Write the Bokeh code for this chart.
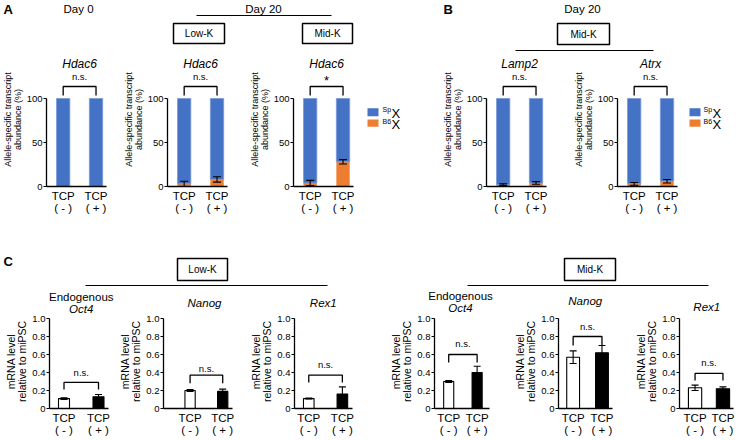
from bokeh.plotting import figure
from bokeh.models import Range1d, FixedTicker, Whisker, TeeHead, ColumnDataSource
from bokeh.layouts import row, column
from bokeh.embed import file_html
from bokeh.resources import INLINE
from bokeh.core.properties import value

FONT = "Liberation Sans"
BLUE = "#4472C4"
ORANGE = "#ED7D31"

# ---------------- data ----------------
conditions = [1, 2]
tcp_labels = ["TCP\n( - )", "TCP\n( + )"]

# Panel A (Hdac6: Day 0, Day 20 Low-K, Day 20 Mid-K) -- B6X share (%); SpX = 100 - B6X
a_titles = ["Hdac6", "Hdac6", "Hdac6"]
a_sig = ["n.s.", "n.s.", "*"]
a_b6 = [[0, 0], [3, 8], [4, 28]]
a_b6_err = [[0, 0], [3, 3], [3, 2.5]]

# Panel B (Day 20 Mid-K)
b_titles = ["Lamp2", "Atrx"]
b_sig = ["n.s.", "n.s."]
b_b6 = [[2, 4], [3, 6]]
b_b6_err = [[1, 1.5], [1.5, 2]]

allele_yticks = [0, 50, 100]
legend_labels = [("Sp", "X"), ("B6", "X")]

# Panel C (mRNA level relative to miPSC)
c_titles = ["Oct4", "Nanog", "Rex1", "Oct4", "Nanog", "Rex1"]
c_mean = [[0.11, 0.13], [0.20, 0.19], [0.11, 0.16], [0.30, 0.40], [0.57, 0.62], [0.23, 0.22]]
c_err = [[0.01, 0.025], [0.01, 0.025], [0.005, 0.08], [0.01, 0.07], [0.07, 0.08], [0.03, 0.02]]
c_sig = ["n.s."] * 6
mrna_yticks = [0, 0.2, 0.4, 0.6, 0.8, 1.0]
mrna_ylabels = ["0", "0.2", "0.4", "0.6", "0.8", "1.0"]

# ---------------- layout (pixels) ----------------
H_HEAD1, H_ROW1, H_HEAD2, H_ROW2 = 52, 166, 96, 126
FRAME1, BOTTOM1 = 134, 32
FRAME2, BOTTOM2 = 94, 32
PX1 = 0.88   # px per %
PX2 = 90.0   # px per unit


def v1(ref_y):
    return (186 - ref_y) / PX1


def canvas(w, h):
    p = figure(width=w, height=h, x_range=Range1d(0, w), y_range=Range1d(h, 0),
               output_backend="svg", toolbar_location=None, title=None,
               x_axis_location=None, y_axis_location=None, min_border=0,
               outline_line_color=None)
    p.grid.visible = False
    return p


def txt(p, x, y, s, size="11px", style="normal", align="center", baseline="middle"):
    p.text(x=[x], y=[y], text=[s], text_font=value(FONT), text_font_size=size,
           text_font_style=style, text_align=align, text_baseline=baseline, text_color="black")


def box(p, l, r, t, b, label):
    p.quad(left=[l], right=[r], top=[t], bottom=[b], fill_color="white",
           line_color="black", line_width=1.5)
    txt(p, (l + r) / 2, (t + b) / 2, label, size="10px")


def sub_fig(width, height, bl, frame_w, bb, o1, o2, y_end):
    s = o2 - o1
    x0 = 1 - o1 / s
    x1 = x0 + frame_w / s
    p = figure(width=width, height=height, x_range=Range1d(x0, x1), y_range=Range1d(0, y_end),
               output_backend="svg", toolbar_location=None, title=None,
               min_border_left=bl, min_border_right=width - bl - frame_w,
               min_border_top=0, min_border_bottom=bb, outline_line_color=None)
    p.grid.visible = False
    return p, s


def style_axes(p, yticks, ylabels, ylabel, ymax, ylabel_size):
    xa = p.xaxis[0]
    xa.ticker = FixedTicker(ticks=conditions)
    xa.major_label_overrides = {c: l for c, l in zip(conditions, tcp_labels)}
    xa.major_tick_out = 0
    xa.major_tick_in = 0
    xa.minor_tick_out = 0
    xa.minor_tick_in = 0
    xa.major_label_standoff = 3
    xa.major_label_text_font = FONT
    xa.major_label_text_font_size = "11.5px"
    xa.major_label_text_line_height = 1.05
    xa.major_label_text_color = "black"
    xa.axis_line_width = 1.3
    xa.axis_line_color = "black"

    ya = p.yaxis[0]
    ya.ticker = FixedTicker(ticks=yticks)
    if ylabels is not None:
        ya.major_label_overrides = {t: l for t, l in zip(yticks, ylabels)}
    ya.bounds = (0, ymax)
    ya.axis_label = ylabel
    ya.axis_label_text_font = FONT
    ya.axis_label_text_font_size = ylabel_size
    ya.axis_label_text_font_style = "normal"
    ya.axis_label_text_line_height = 0.95
    ya.axis_label_standoff = 1
    ya.axis_label_text_color = "black"
    ya.major_label_standoff = 1
    ya.major_label_text_font = FONT
    ya.major_label_text_font_size = "9.5px"
    ya.major_label_text_color = "black"
    ya.major_tick_out = 3
    ya.major_tick_in = 0
    ya.minor_tick_out = 0
    ya.minor_tick_in = 0
    ya.axis_line_width = 1.3
    ya.axis_line_color = "black"
    ya.major_tick_line_width = 1.2


def bracket(p, top, leg):
    p.line(x=[1, 1, 2, 2], y=[leg, top, top, leg], line_color="black", line_width=1.3)


def whisker(p, mean, err, size=7):
    src = ColumnDataSource(dict(x=conditions,
                                lower=[m - e for m, e in zip(mean, err)],
                                upper=[m + e for m, e in zip(mean, err)]))
    w = Whisker(source=src, base="x", lower="lower", upper="upper",
                line_color="black", line_width=1.1, level="overlay",
                upper_head=TeeHead(size=size, line_color="black", line_width=1.1),
                lower_head=TeeHead(size=size, line_color="black", line_width=1.1))
    p.add_layout(w)


ALLELE_LABEL = "Allele-specific transcript\nabundance (%)"


def allele_fig(width, bl, title, b6, b6_err, sig):
    p, s = sub_fig(width, H_ROW1, bl, 63, BOTTOM1, 17.5, 52.0, FRAME1 / PX1)
    bw = 14 / s
    sp = [100 - v for v in b6]
    p.vbar(x=conditions, width=bw, bottom=0, top=b6, fill_color=ORANGE, line_color=None)
    p.vbar(x=conditions, width=bw, bottom=b6, top=[b + q for b, q in zip(b6, sp)],
           fill_color=BLUE, line_color="#7a9bdb", line_width=0.8)
    if any(e > 0 for e in b6_err):
        whisker(p, b6, b6_err, size=8)
    txt(p, 1.5, v1(63), title, size="12px", style="italic")
    if sig == "*":
        txt(p, 1.5, v1(80), sig, size="13px")
    else:
        txt(p, 1.5, v1(76), sig, size="9.5px")
    bracket(p, v1(86), v1(95))
    style_axes(p, allele_yticks, None, ALLELE_LABEL, 100, "9px")
    return p


def legend_fig(width, x_sq, x_txt):
    p = canvas(width, H_ROW1)
    ys = [(69, 79), (83, 92)]
    cols = [BLUE, ORANGE]
    for (sup, main), (t, b), c in zip(legend_labels, ys, cols):
        p.quad(left=[x_sq], right=[x_sq + 11], top=[t], bottom=[b], fill_color=c, line_color=None)
        txt(p, x_txt, t + 2, sup, size="7px", align="left")
        txt(p, x_txt + 9, (t + b) / 2 + 2, main, size="13px", align="left")
    return p


MRNA_LABEL = "mRNA level\nrelative to miPSC"


def mrna_fig(width, bl, frame_w, o1, o2, bwpx, mean, err, sig, top, leg, sig_y):
    p, s = sub_fig(width, H_ROW2, bl, frame_w, BOTTOM2, o1, o2, FRAME2 / PX2)
    bw = bwpx / s
    p.vbar(x=[conditions[0]], width=bw, bottom=0, top=[mean[0]], fill_color="white",
           line_color="black", line_width=1.1)
    p.vbar(x=[conditions[1]], width=bw, bottom=0, top=[mean[1]], fill_color="black",
           line_color="black", line_width=1.1)
    whisker(p, mean, err, size=7)
    bracket(p, top, leg)
    txt(p, 1.5, sig_y, sig, size="9.5px")
    style_axes(p, mrna_yticks, mrna_ylabels, MRNA_LABEL, 1.0, "10.5px")
    return p


# ---------------- header 1 ----------------
h1 = canvas(747, H_HEAD1)
txt(h1, 3, 9, "A", size="13px", style="bold", align="left")
txt(h1, 78, 8, "Day 0", size="11.5px")
txt(h1, 263, 8, "Day 20", size="11.5px")
h1.segment(x0=[196], y0=[15], x1=[331], y1=[15], line_color="black", line_width=1)
box(h1, 173, 224, 23, 43, "Low-K")
box(h1, 302, 352, 23, 43, "Mid-K")
txt(h1, 443, 9, "B", size="13px", style="bold", align="left")
txt(h1, 582, 8, "Day 20", size="11.5px")
box(h1, 557, 609, 23, 44, "Mid-K")
h1.segment(x0=[515], y0=[50], x1=[653], y1=[50], line_color="black", line_width=1)

# ---------------- row 1 ----------------
A1 = allele_fig(121, 43, a_titles[0], a_b6[0], a_b6_err[0], a_sig[0])
A2 = allele_fig(126, 43, a_titles[1], a_b6[1], a_b6_err[1], a_sig[1])
A3 = allele_fig(115, 43, a_titles[2], a_b6[2], a_b6_err[2], a_sig[2])
LA = legend_fig(78, 5, 20)
B1 = allele_fig(131, 43, b_titles[0], b_b6[0], b_b6_err[0], b_sig[0])
B2 = allele_fig(114, 43, b_titles[1], b_b6[1], b_b6_err[1], b_sig[1])
LB = legend_fig(62, 4, 18)

# ---------------- row 2 specs ----------------
c_specs = [  # width, border_left, frame_w, o1, o2, bar px
    (115, 49, 59, 14.5, 49.0, 11),
    (131, 43, 74, 28.5, 63.5, 11),
    (140, 43, 63, 15.5, 52.0, 11.5),
    (124, 43, 60, 15.5, 46.5, 11),
    (121, 43, 59, 16.0, 47.5, 14),
    (116, 43, 59, 17.0, 47.5, 14.5),
]
c_bracket_top = [0.29, 0.37, 0.37, 0.60, 0.80, 0.39]
c_bracket_leg = [0.21, 0.28, 0.29, 0.51, 0.70, 0.31]
c_sig_y = [0.40, 0.45, 0.49, 0.72, 0.91, 0.51]
c_title_py = [90, 84, 84, 89, 82, 88]      # title rows inside header 2 (px)
c_endo_py = [78, None, None, 77, None, None]

# ---------------- header 2 (with subplot titles) ----------------
h2 = canvas(747, H_HEAD2)
txt(h2, 3, 43, "C", size="13px", style="bold", align="left")
box(h2, 177, 227, 40, 62, "Low-K")
h2.segment(x0=[85], y0=[67], x1=[327], y1=[67], line_color="black", line_width=1)
box(h2, 564, 615, 40, 62, "Mid-K")
h2.segment(x0=[467], y0=[67], x1=[708], y1=[67], line_color="black", line_width=1)

x_left = 0
for i in range(6):
    w, bl, fw, o1, o2, bp = c_specs[i]
    xc = x_left + bl + (o1 + o2) / 2
    if c_endo_py[i] is not None:
        txt(h2, xc, c_endo_py[i], "Endogenous", size="11.5px")
    txt(h2, xc, c_title_py[i], c_titles[i], size="11.5px", style="italic")
    x_left += w

# ---------------- row 2 ----------------
row2 = []
for i in range(6):
    w, bl, fw, o1, o2, bp = c_specs[i]
    row2.append(mrna_fig(w, bl, fw, o1, o2, bp, c_mean[i], c_err[i], c_sig[i],
                         c_bracket_top[i], c_bracket_leg[i], c_sig_y[i]))

layout = column(h1, row(A1, A2, A3, LA, B1, B2, LB), h2, row(*row2))

open("out.html", "w").write(file_html(layout, INLINE))
